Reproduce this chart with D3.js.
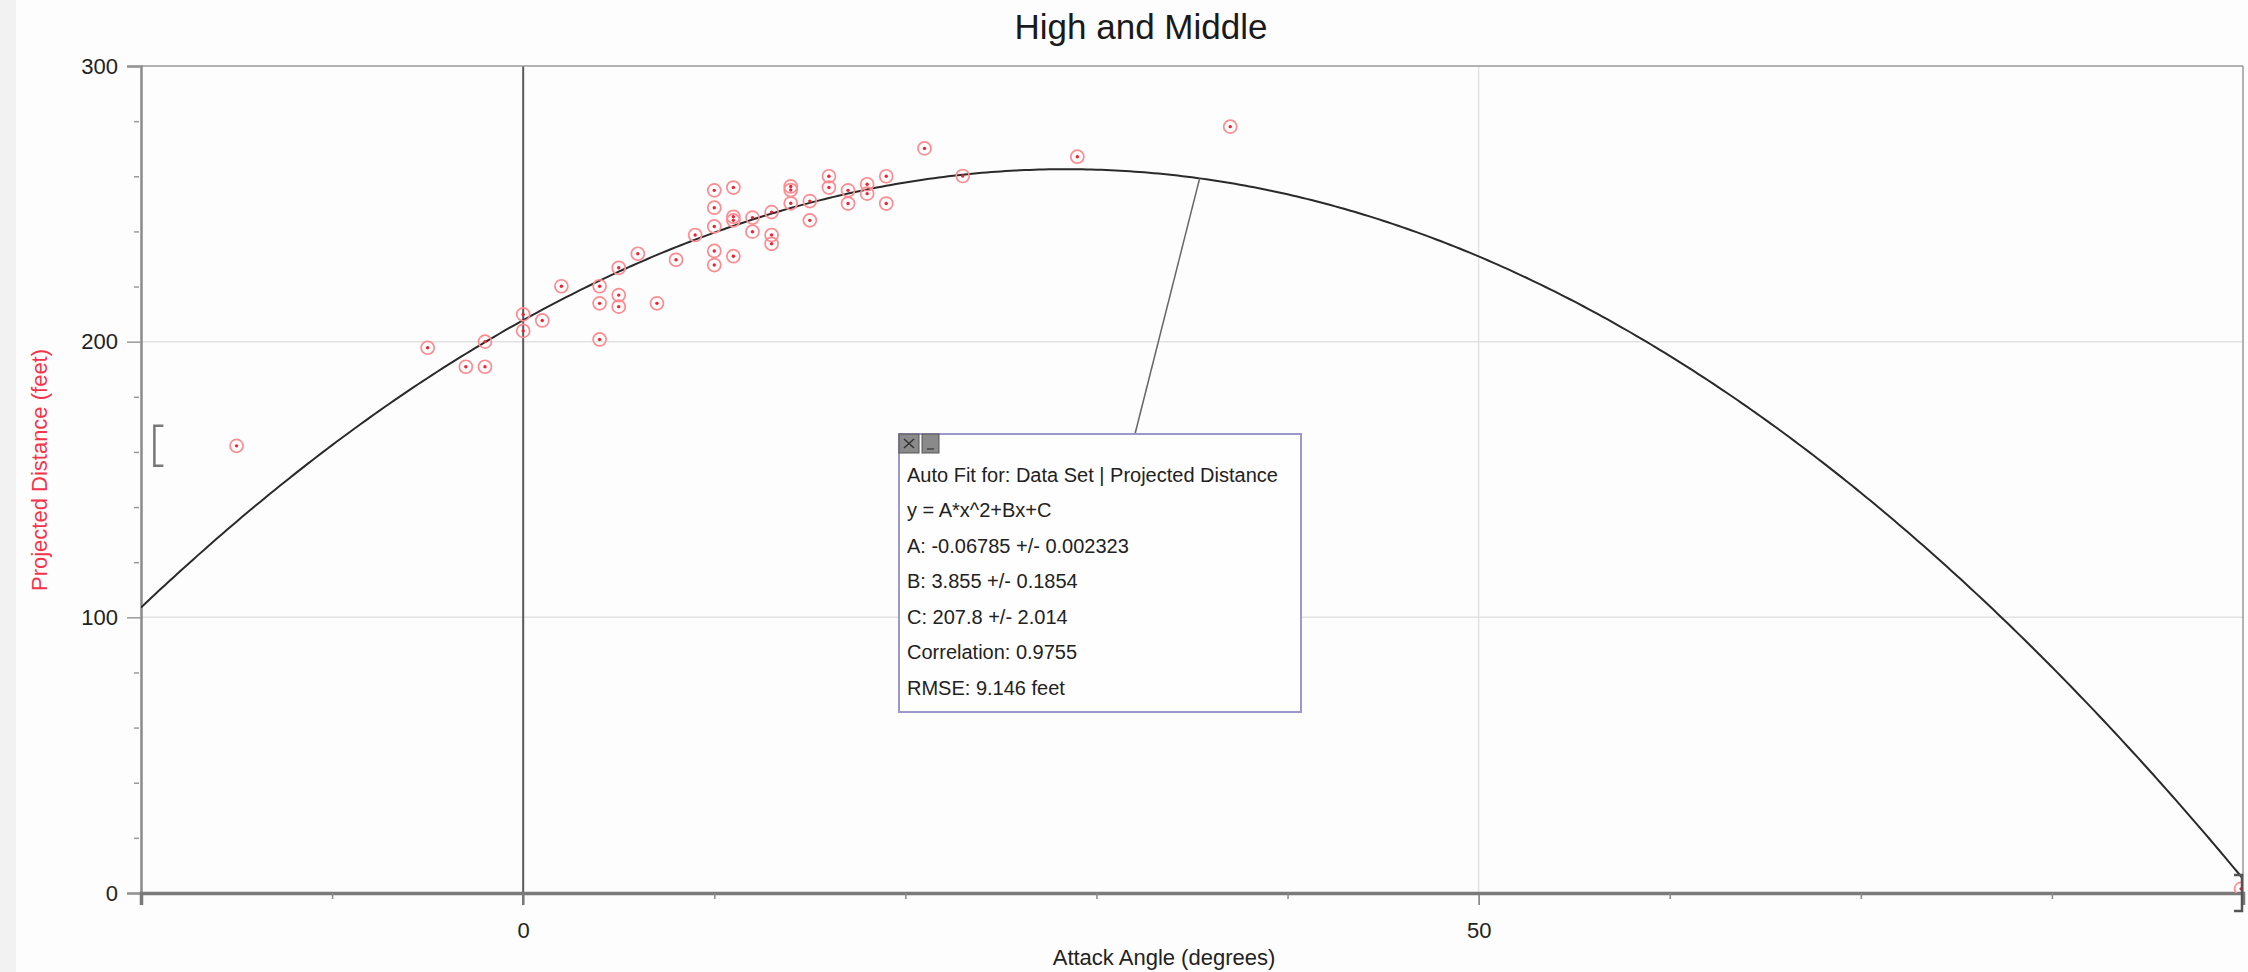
<!DOCTYPE html>
<html>
<head>
<meta charset="utf-8">
<script src="https://cdn.jsdelivr.net/npm/d3@7"></script>
<style>
  html, body { margin: 0; padding: 0; background: #fdfdfd; }
  svg { display: block; font-family: "Liberation Sans", Arial, Helvetica, sans-serif; }
</style>
</head>
<body>
<svg id="chart" width="2248" height="972"></svg>
<script>
// ---- data ----
const attackAngle = [-15, -5, -3, -2, -2, 0, 0, 1, 2, 4, 4, 4, 5, 5, 5, 6, 7, 8, 9,
  10, 10, 10, 10, 10, 11, 11, 11, 11, 12, 12, 13, 13, 13, 14, 14, 14, 15, 15,
  16, 16, 17, 17, 18, 18, 19, 19, 21, 23, 29, 37, 89.9];
const projectedDistance = [162.2, 197.8, 190.9, 200.0, 190.9, 209.9, 203.9, 207.7, 220.1,
  220.1, 213.9, 200.8, 226.8, 216.9, 212.7, 231.9, 213.9, 229.7, 238.7,
  254.9, 248.6, 241.8, 232.9, 227.8, 255.9, 245.3, 244.0, 231.0, 245.0, 239.9,
  247.0, 238.7, 235.5, 256.3, 255.0, 250.2, 251.0, 244.0, 260.0, 255.9, 254.9,
  250.1, 257.1, 253.7, 260.0, 250.1, 270.1, 260.1, 267.1, 278.0, 1.5];
// quadratic fit parameters shown in the fit box: A, B, C
const fitParams = [-0.06785, 3.855, 207.8];
const fitLines = [
  "Auto Fit for: Data Set | Projected Distance",
  "y = A*x^2+Bx+C",
  "A: -0.06785 +/- 0.002323",
  "B: 3.855 +/- 0.1854",
  "C: 207.8 +/- 2.014",
  "Correlation: 0.9755",
  "RMSE: 9.146 feet"
];
const xDomain = [-20, 90];
const yDomain = [0, 300];
const xMajorTicks = [0, 50];
const xMinorTicks = [-10, 10, 20, 30, 40, 60, 70, 80];
const yMajorTicks = [0, 100, 200, 300];
const yMinorTicks = [20, 40, 60, 80, 120, 140, 160, 180, 220, 240, 260, 280];
const fitRange = [-19.3, 90];      // bracket markers
const leaderX = 35.4;               // where the fit box leader touches the curve

// ---- layout ----
const svg = d3.select("#chart");
const L = 141, R = 2243, T = 66, B = 893;
const x = d3.scaleLinear().domain(xDomain).range([L, R]);
const y = d3.scaleLinear().domain(yDomain).range([B, T]);

svg.append("rect").attr("x", 0).attr("y", 0).attr("width", 16).attr("height", 972).attr("fill", "#f2f2f2");

svg.append("defs").append("clipPath").attr("id", "plotclip")
  .append("rect").attr("x", L).attr("y", T).attr("width", R - L).attr("height", B - T);

// gridlines
const grid = svg.append("g");
grid.selectAll("line.hg").data([100, 200]).join("line")
  .attr("x1", L).attr("x2", R).attr("y1", d => y(d)).attr("y2", d => y(d))
  .attr("stroke", "#e2e2e2").attr("stroke-width", 1.5);
grid.append("line").attr("x1", x(50)).attr("x2", x(50)).attr("y1", T).attr("y2", B)
  .attr("stroke", "#e2e2e2").attr("stroke-width", 1.5);
grid.append("line").attr("x1", x(0)).attr("x2", x(0)).attr("y1", T).attr("y2", B + 12)
  .attr("stroke", "#5a5a5a").attr("stroke-width", 2);

// frame top & right
svg.append("line").attr("x1", L).attr("x2", R).attr("y1", T).attr("y2", T).attr("stroke", "#9a9a9a").attr("stroke-width", 1.5);
svg.append("line").attr("x1", R).attr("x2", R).attr("y1", T).attr("y2", B).attr("stroke", "#9a9a9a").attr("stroke-width", 1.5);

// y axis
const yAxis = svg.append("g").attr("transform", `translate(${L},0)`)
  .call(d3.axisLeft(y).tickValues(yMajorTicks).tickSize(14).tickPadding(9).tickFormat(d3.format("d")));
yAxis.select(".domain").attr("stroke", "#8a8a8a").attr("stroke-width", 2.5);
yAxis.selectAll(".tick line").attr("stroke", "#9a9a9a").attr("stroke-width", 1.5);
yAxis.selectAll(".tick text").attr("font-size", 22).attr("fill", "#222");
const yMinor = svg.append("g").attr("transform", `translate(${L - 2},0)`)
  .call(d3.axisLeft(y).tickValues(yMinorTicks).tickSize(5).tickFormat(""));
yMinor.select(".domain").remove();
yMinor.selectAll(".tick line").attr("stroke", "#9a9a9a").attr("stroke-width", 1.5);

// x axis
const xAxis = svg.append("g").attr("transform", `translate(0,${B})`)
  .call(d3.axisBottom(x).tickValues(xMajorTicks).tickSize(12).tickPadding(17).tickFormat(d3.format("d")));
xAxis.select(".domain").attr("stroke", "#7a7a7a").attr("stroke-width", 3.5);
xAxis.selectAll(".tick line").attr("stroke", "#7a7a7a").attr("stroke-width", 1.5);
xAxis.selectAll(".tick text").attr("font-size", 22).attr("fill", "#222");
const xMinor = svg.append("g").attr("transform", `translate(0,${B})`)
  .call(d3.axisBottom(x).tickValues(xMinorTicks).tickSize(6).tickFormat(""));
xMinor.select(".domain").remove();
xMinor.selectAll(".tick line").attr("stroke", "#8a8a8a").attr("stroke-width", 1.5);

// fit curve
const [A, Bc, C] = fitParams;
const f = v => A * v * v + Bc * v + C;
const xs = d3.range(xDomain[0], xDomain[1] + 0.001, 0.25);
const plot = svg.append("g").attr("clip-path", "url(#plotclip)");
plot.append("path").datum(xs)
  .attr("d", d3.line().x(d => x(d)).y(d => y(f(d))))
  .attr("fill", "none").attr("stroke", "#2a2a2a").attr("stroke-width", 2);

// points
const pts = attackAngle.map((a, i) => ({ a, d: projectedDistance[i] }));
const pg = plot.selectAll("g.pt").data(pts).join("g")
  .attr("transform", p => `translate(${x(p.a)},${y(p.d)})`);
pg.append("circle").attr("r", 6.5).attr("fill", "none").attr("stroke", "#ff8a8f").attr("stroke-width", 1.7);
pg.append("circle").attr("r", 1.7).attr("fill", "#ee2233");

// fit range brackets
const bh = 20;
const lbx = x(fitRange[0]);
svg.append("path")
  .attr("d", `M${lbx + 9},${y(162.2) - bh} H${lbx} V${y(162.2) + bh} H${lbx + 9}`)
  .attr("fill", "none").attr("stroke", "#777").attr("stroke-width", 2.5);
const rbx = x(fitRange[1]) - 1;
svg.append("path")
  .attr("d", `M${rbx - 8},${y(0) - 18} H${rbx} V${y(0) + 18} H${rbx - 8}`)
  .attr("fill", "none").attr("stroke", "#555").attr("stroke-width", 2.5);

// leader line and fit box
const boxX = 899, boxY = 434, boxW = 402, boxH = 278;
svg.append("line").attr("x1", x(leaderX)).attr("y1", y(f(leaderX)))
  .attr("x2", 1135).attr("y2", boxY)
  .attr("stroke", "#666").attr("stroke-width", 1.5);
svg.append("rect").attr("x", boxX).attr("y", boxY).attr("width", boxW).attr("height", boxH)
  .attr("fill", "#fefefe").attr("stroke", "#9c98cc").attr("stroke-width", 2);
// close / minimize buttons
svg.append("rect").attr("x", boxX).attr("y", boxY).attr("width", 20).attr("height", 19)
  .attr("fill", "#8a8a8a").attr("stroke", "#555").attr("stroke-width", 1);
svg.append("path").attr("d", `M${boxX + 5},${boxY + 5} L${boxX + 15},${boxY + 14} M${boxX + 15},${boxY + 5} L${boxX + 5},${boxY + 14}`)
  .attr("stroke", "#333").attr("stroke-width", 1.5);
svg.append("rect").attr("x", boxX + 23).attr("y", boxY).attr("width", 17).attr("height", 19)
  .attr("fill", "#8a8a8a").attr("stroke", "#555").attr("stroke-width", 1);
svg.append("line").attr("x1", boxX + 28).attr("x2", boxX + 35).attr("y1", boxY + 15).attr("y2", boxY + 15)
  .attr("stroke", "#444").attr("stroke-width", 1.5);
svg.append("g").selectAll("text").data(fitLines).join("text")
  .attr("x", boxX + 8).attr("y", (d, i) => 481.7 + i * 35.55)
  .attr("font-size", 20).attr("fill", "#222").text(d => d);

// titles
svg.append("text").attr("x", 1141).attr("y", 39).attr("text-anchor", "middle")
  .attr("font-size", 35).attr("fill", "#1a1a1a").text("High and Middle");
svg.append("text").attr("transform", "translate(47,470) rotate(-90)").attr("text-anchor", "middle")
  .attr("font-size", 22).attr("fill", "#f5334b").text("Projected Distance (feet)");
svg.append("text").attr("x", 1164).attr("y", 965).attr("text-anchor", "middle")
  .attr("font-size", 22).attr("fill", "#222").text("Attack Angle (degrees)");
</script>
</body>
</html>
